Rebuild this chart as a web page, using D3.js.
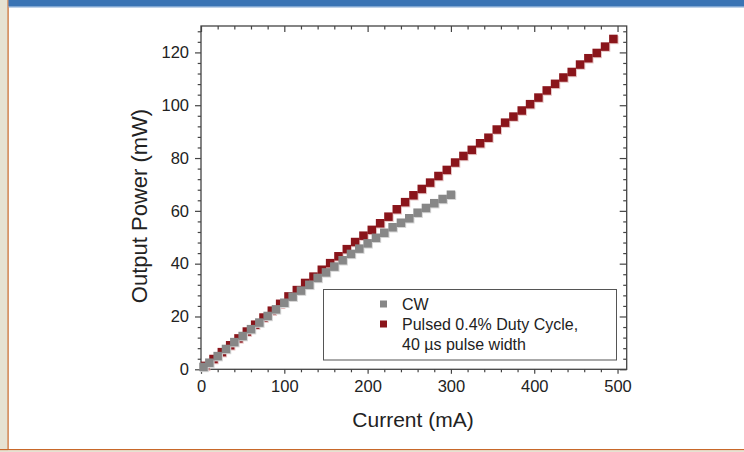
<!DOCTYPE html>
<html>
<head>
<meta charset="utf-8">
<script src="https://cdn.jsdelivr.net/npm/d3@7"></script>
<style>
    body { margin: 0; background: #fff; }
    svg { display: block; }
    text { font-family: 'Liberation Sans', Arial, sans-serif; fill: #222; }
</style>
</head>
<body>
<script>
const width = 744,
    height = 452;

// CW series (current in mA, power in mW)
const cw_current = [3, 10, 20, 30, 40, 50, 60, 70, 80, 90, 100, 110, 120, 130, 140, 150,
    160, 170, 180, 190, 200, 210, 220, 230, 240, 250, 260, 270, 280, 290, 300];
const cw_power = [0.9, 2.5, 5.0, 7.7, 10.3, 12.6, 15.2, 17.7, 20.2, 22.7, 25.2, 27.5, 29.8, 32.0,
    34.6, 36.7, 38.9, 41.3, 43.7, 45.7, 47.7, 49.8, 51.7, 53.8, 55.5, 57.2, 59.3, 61.1, 62.9, 64.5, 66.1];

// Pulsed series
const pulsed_current = [5, 15, 25, 35, 45, 55, 65, 75, 85, 95, 105, 115, 125, 135, 145, 155, 165,
    175, 185, 195, 205, 215, 225, 235, 245, 255, 265, 275, 285, 295, 305, 315, 325, 335, 345,
    355, 365, 375, 385, 395, 405, 415, 425, 435, 445, 455, 465, 475, 485, 495];
const pulsed_power = [1.3, 3.9, 6.5, 9.1, 11.7, 14.3, 16.9, 19.6, 22.2, 24.8, 27.6, 30.0, 32.7,
    35.1, 37.7, 40.2, 42.8, 45.5, 48.2, 50.6, 52.8, 55.3, 57.8, 60.6, 63.3, 65.9, 68.3, 70.7,
    73.2, 75.5, 78.3, 80.8, 83.1, 85.6, 87.7, 90.8, 93.4, 95.7, 98.0, 100.4, 102.9, 105.6,
    108.1, 110.5, 112.6, 115.4, 117.8, 119.8, 122.2, 125.1];

const x_ticks = [0, 100, 200, 300, 400, 500];
const y_ticks = [0, 20, 40, 60, 80, 100, 120];
const legend_labels = ['CW', 'Pulsed 0.4% Duty Cycle,', '40 \u00b5s pulse width'];

const plot = {left: 201, right: 626.7, top: 26, bottom: 369.3};

const svg = d3.select('body')
    .append('svg')
    .attr('width', width)
    .attr('height', height);

// page frame
svg.append('rect').attr('x', 0).attr('y', 0).attr('width', 8).attr('height', height).attr('fill', '#e6e2d2');
svg.append('rect').attr('x', 7.5).attr('y', 0).attr('width', 1.2).attr('height', 450).attr('fill', '#c8682a');
svg.append('rect').attr('x', 0).attr('y', 449).attr('width', width).attr('height', 1.4).attr('fill', '#c8682a');
svg.append('rect').attr('x', 0).attr('y', 450.4).attr('width', width).attr('height', 2).attr('fill', '#e6e2d2');
svg.append('rect').attr('x', 8.5).attr('y', 0).attr('width', width).attr('height', 6).attr('fill', '#3a74b4');
svg.append('rect').attr('x', 8.5).attr('y', 6).attr('width', width).attr('height', 1.5).attr('fill', '#7fa6d2');

const x = d3.scaleLinear().domain([0, 511]).range([plot.left, plot.right]);
const y = d3.scaleLinear().domain([0, 130]).range([plot.bottom, plot.top]);

const minor = (arr, step, max) => d3.range(0, max + 0.001, step).filter(v => !arr.includes(v));

function style_axis(g) {
    g.select('.domain').remove();
    g.selectAll('line').attr('stroke', '#444').attr('stroke-width', 1.2);
    g.selectAll('text')
        .style('font-family', "'Liberation Sans', Arial, sans-serif")
        .style('font-size', '16.5px')
        .attr('fill', '#222');
}

// bottom
svg.append('g').attr('transform', 'translate(0,' + plot.bottom + ')')
    .call(d3.axisBottom(x).tickValues(x_ticks).tickSize(4.5).tickPadding(6).tickFormat(d3.format('d')))
    .call(style_axis);
svg.append('g').attr('transform', 'translate(0,' + plot.bottom + ')')
    .call(d3.axisBottom(x).tickValues(minor(x_ticks, 20, 510)).tickSize(3).tickFormat(''))
    .call(style_axis);
// top
svg.append('g').attr('transform', 'translate(0,' + plot.top + ')')
    .call(d3.axisTop(x).tickValues(x_ticks).tickSize(-6).tickFormat(''))
    .call(style_axis);
svg.append('g').attr('transform', 'translate(0,' + plot.top + ')')
    .call(d3.axisTop(x).tickValues(minor(x_ticks, 20, 510)).tickSize(-3.5).tickFormat(''))
    .call(style_axis);
// left
svg.append('g').attr('transform', 'translate(' + plot.left + ',0)')
    .call(d3.axisLeft(y).tickValues(y_ticks).tickSize(6).tickPadding(6).tickFormat(d3.format('d')))
    .call(style_axis);
svg.append('g').attr('transform', 'translate(' + plot.left + ',0)')
    .call(d3.axisLeft(y).tickValues(minor(y_ticks, 4, 128)).tickSize(3.3).tickFormat(''))
    .call(style_axis);
// right
svg.append('g').attr('transform', 'translate(' + plot.right + ',0)')
    .call(d3.axisRight(y).tickValues(y_ticks).tickSize(-7).tickFormat(''))
    .call(style_axis);
svg.append('g').attr('transform', 'translate(' + plot.right + ',0)')
    .call(d3.axisRight(y).tickValues(minor(y_ticks, 4, 128)).tickSize(-3.5).tickFormat(''))
    .call(style_axis);

// plot frame
svg.append('rect')
    .attr('x', plot.left).attr('y', plot.top)
    .attr('width', plot.right - plot.left).attr('height', plot.bottom - plot.top)
    .attr('fill', 'none').attr('stroke', '#444').attr('stroke-width', 1.3);

// axis titles
svg.append('text')
    .attr('x', 413).attr('y', 427)
    .attr('text-anchor', 'middle')
    .style('font-size', '21px')
    .text('Current (mA)');
svg.append('text')
    .attr('transform', 'translate(146.5,206) rotate(-90)')
    .attr('text-anchor', 'middle')
    .style('font-size', '22px')
    .text('Output Power (mW)');

const sz = 8.5;

function draw_series(cur, pow, color, shadow) {
    const pts = cur.map((c, i) => ({c: c, p: pow[i]}));
    const g = svg.append('g');
    g.selectAll('rect.sh').data(pts).enter().append('rect')
        .attr('class', 'sh')
        .attr('x', d => x(d.c) - sz / 2 + 1)
        .attr('y', d => y(d.p) - sz / 2 + 1)
        .attr('width', sz).attr('height', sz)
        .attr('fill', shadow);
    g.selectAll('rect.pt').data(pts).enter().append('rect')
        .attr('class', 'pt')
        .attr('x', d => x(d.c) - sz / 2)
        .attr('y', d => y(d.p) - sz / 2)
        .attr('width', sz).attr('height', sz)
        .attr('fill', color);
}

draw_series(pulsed_current, pulsed_power, '#8a151b', '#e6c4c4');
draw_series(cw_current, cw_power, '#878787', '#d6d6d6');

// legend
svg.append('rect')
    .attr('x', 323.5).attr('y', 289.5).attr('width', 293).attr('height', 70.5)
    .attr('fill', '#fff').attr('stroke', '#555').attr('stroke-width', 1);

const legend_colors = ['#878787', '#8a151b'];
const legend_y = [304, 324];
svg.selectAll('rect.leg').data(legend_colors).enter().append('rect')
    .attr('class', 'leg')
    .attr('x', 380).attr('y', (d, i) => legend_y[i] - 3.5)
    .attr('width', 7).attr('height', 7)
    .attr('fill', d => d);

svg.selectAll('text.leg').data(legend_labels).enter().append('text')
    .attr('class', 'leg')
    .attr('x', 402)
    .attr('y', (d, i) => 304 + i * 20)
    .attr('dy', '0.35em')
    .style('font-size', '16px')
    .text(d => d);
</script>
</body>
</html>
